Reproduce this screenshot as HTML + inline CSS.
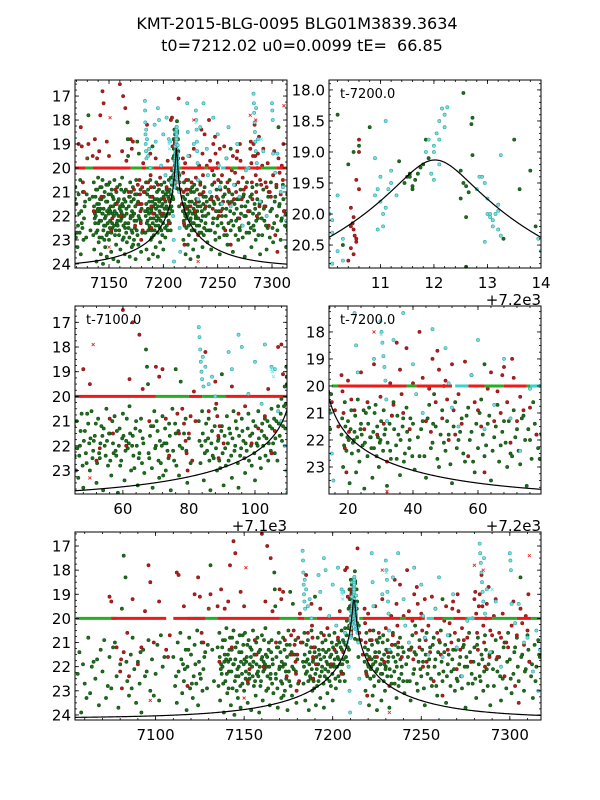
<!DOCTYPE html>
<html>
<head>
<meta charset="utf-8">
<style>
html,body{margin:0;padding:0;background:#fff;}
#wrap{position:relative;width:600px;height:800px;overflow:hidden;}
svg text{font-family:"DejaVu Sans","Liberation Sans",sans-serif;}
</style>
</head>
<body>
<div id="wrap">
<svg id="fig" width="600" height="800" viewBox="0 0 600 800" xmlns="http://www.w3.org/2000/svg">
<text x="297" y="29" font-size="16" text-anchor="middle">KMT-2015-BLG-0095 BLG01M3839.3634</text>
<text x="302" y="51" font-size="16" text-anchor="middle" xml:space="preserve" style="white-space:pre">t0=7212.02 u0=0.0099 tE=  66.85</text>
</svg>
</div>
<script>
// model parameters
const t0 = 7212.02, u0 = 0.0099, tE = 66.85, mBase = 24.14;

// dark green (circles)
const greenPts = [
[7057,21.4],[7058,23.9],[7060,22.7],[7062,20.8],[7063,23.1],[7065,21.8],[7066,22.5],[7067,21.7],[7068,23.6],[7070,22.2],[7071,20.9],[7072,23.3],[7074,21.6],[7075,22.9],[7076,21.2],[7078,22.4],[7079,23.7],[7080,21.9],[7081,19.6],[7082,17.4],[7083,18.3],[7084,22.6],[7085,23.2],[7086,21.5],[7087,20.8],[7088,22.1],[7089,23.5],[7090,21.8],[7091,22.7],[7092,23.9],[7093,21.3],[7094,22.4],[7096,20.9],[7097,23.0],[7098,21.7],[7100,22.3],[7101,21.1],[7102,23.4],[7103,20.7],[7104,22.0],
[7110,21.6],[7111,22.8],[7112,23.5],[7112.5,21.0],[7113,22.2],[7114,20.6],[7115,23.1],[7115.5,21.9],[7116,22.6],[7117,21.3],[7117.5,23.8],[7118,22.0],[7119,20.8],[7119.5,22.9],[7120,21.5],[7121,23.3],[7121.5,22.4],[7122,21.1],[7123,22.7],[7123.5,20.5],[7124,23.6],[7124.5,21.8],[7125,22.3],[7126,21.0],[7126.5,23.0],[7127,22.1],[7128,21.4],[7129,22.9],[7130,19.6],[7131,17.8],[7132,21.3],[7133,22.6],
[7135,21.2],[7135.5,22.8],[7136,20.6],[7136.4,23.4],[7137,21.9],[7137.3,22.3],[7138,20.9],[7138.5,23.9],[7139,21.5],[7139.4,22.6],[7140,20.4],[7140.5,23.1],[7141,21.8],[7141.4,22.2],[7142,20.8],[7142.5,23.6],[7143,21.3],[7143.5,22.9],[7144,20.5],[7144.5,24.0],[7145,21.7],[7145.4,22.4],[7146,21.0],[7146.5,23.3],[7147,22.0],[7147.5,20.7],[7148,23.7],[7148.5,21.4],[7149,22.7],[7149.5,21.1],[7150,23.0],[7150.5,20.6],[7151,22.2],[7151.5,21.6],[7152,23.5],[7152.5,20.9],[7153,22.5],[7153.5,21.2],[7154,23.8],[7154.5,22.0],[7155,20.5],[7155.5,22.8],[7156,21.5],[7156.5,23.2],[7157,21.9],[7157.5,20.8],[7158,22.4],[7158.5,23.9],[7159,21.3],[7159.5,22.6],[7160,20.7],[7160.5,23.4],[7161,21.8],[7161.5,22.1],[7162,20.4],[7162.5,23.0],[7163,21.6],[7163.5,22.9],[7164,21.0],[7164.5,23.6],[7165,22.3],[7165.5,20.9],[7166,21.7],[7166.5,23.1],[7167,18.1],[7167.3,18.8],[7167.6,19.5],[7168,22.5],[7168.5,21.2],[7169,23.7],[7169.5,20.6],[7170,22.0],[7170.5,21.4],[7171,23.3],[7171.5,22.7],[7172,20.8],[7172.5,21.9],[7173,23.0],[7173.5,22.2],[7174,21.1],[7174.5,23.8],[7175,20.5],[7175.5,22.6],[7176,21.5],[7177,23.2],[7177.5,19.4],[7178,22.1],[7179,20.9],[7179.5,23.5],[7180,21.7],
[7137.8,22.0],[7141.7,21.3],[7143.8,21.9],[7146.8,22.4],[7149.8,21.9],[7152.8,22.3],[7155.8,21.5],[7158.8,22.0],[7161.8,21.9],[7164.8,22.5],[7139.8,21.7],[7151.2,21.8],[7153.8,21.6],[7157.2,22.3],[7160.2,21.6],[7162.8,22.0],
[7183,21.0],[7183.5,22.7],[7184,20.6],[7184.5,23.4],[7185,21.8],[7185.5,22.2],[7186,20.9],[7186.5,23.8],[7187,21.4],[7187.5,22.5],[7188,20.5],[7188.5,23.0],[7189,21.7],[7189.5,22.9],[7190,21.2],[7190.5,23.6],[7191,22.1],[7191.5,20.8],[7192,22.6],[7192.5,21.5],[7193,23.3],[7193.5,20.6],[7194,22.0],[7194.5,21.3],[7195,23.7],[7195.5,22.4],[7196,20.9],[7196.5,21.8],[7197,23.1],[7197.5,22.2],[7198,20.7],[7198.5,21.6],[7199,22.8],[7199.5,21.0],[7200,23.4],[7200.5,21.9],[7201,20.6],[7201.5,22.5],[7202,21.4],[7202.5,22.0],[7203,20.9],[7203.5,21.7],[7204,22.6],[7204.5,21.2],[7205,20.5],[7205.5,21.9],[7206,22.3],[7206.5,21.0],[7207,20.4],[7207.5,21.6],[7208,20.1],[7208.5,21.2],[7209,19.6],[7209.3,20.3],[7209.6,19.2],[7209.9,20.0],
[7211.5,19.4],[7211.6,19.55],[7211.7,19.35],[7211.75,19.25],[7211.8,19.2],[7211.55,19.4],[7211.45,19.5],[7211.65,19.45],[7211.85,18.8],[7211.9,19.1],[7211.6,19.6],[7212.5,19.3],[7212.55,19.5],[7212.6,19.55],[7212.65,19.65],[7212.5,19.75],[7212.55,18.05],[7212.7,18.55],[7212.72,18.45],[7212.72,19.05],[7212.6,20.05],[7212.6,20.85],[7211.35,19.15],[7211.55,19.35],
[7210.5,19.0],[7210.8,18.6],[7213.5,18.8],[7213.8,19.3],[7210.3,20.5],[7213.3,20.4],
[7218,21.8],[7218.5,23.0],[7219,20.6],[7219.5,22.4],[7220,21.3],[7220.5,23.6],[7221,20.9],[7221.5,22.1],[7222,21.7],[7222.5,23.2],[7223,20.5],[7223.5,22.8],[7224,21.4],[7224.5,22.2],[7225,23.8],[7225.5,21.0],[7226,22.6],[7226.5,20.8],[7227,21.9],[7227.5,23.4],[7228,22.3],[7228.5,20.7],[7229,21.5],[7229.5,23.0],[7230,22.0],[7231,20.9],[7231.5,21.6],[7232,23.7],[7233,22.4],[7233.5,21.1],[7234,20.6],[7235,22.7],[7235.5,21.8],[7236,23.3],[7237,21.2],[7237.5,22.5],[7238,20.8],[7239,22.0],[7240,21.4],[7240.5,23.1],[7219.8,21.9],[7221.8,22.0],[7223.8,21.6],[7226.8,21.9],[7229.8,22.1],
[7242,22.6],[7243,21.3],[7244,23.4],[7245,20.7],[7246,22.1],[7247,21.5],[7248,23.0],[7249,20.9],[7250,22.4],[7251,21.8],[7252,23.6],[7253,20.6],[7254,22.0],[7255,21.2],[7256,22.8],[7257,20.8],[7258,21.7],[7259,23.2],[7260,22.3],[7260.5,21.0],[7261,20.5],[7262,22.6],[7263,21.4],[7264,23.5],[7265,21.9],[7266,20.7],[7267,22.2],[7268,21.3],[7269,23.0],[7270,22.5],[7271,20.9],[7272,21.6],[7273,22.9],[7274,21.1],[7275,23.7],[7276,22.0],[7277,20.6],[7278,21.8],[7279,22.7],[7280,21.2],[7281,23.3],[7282,20.8],[7283,22.4],[7284,21.5],[7285,23.0],[7286,20.7],[7287,22.1],[7288,21.9],[7289,23.6],[7290,21.4],[7291,22.8],[7292,20.9],[7293,22.2],[7294,21.6],[7295,23.4],[7296,22.5],[7297,21.0],[7298,22.9],[7299,20.6],[7300,21.7],[7301,23.1],[7302,22.3],[7303,21.2],[7304,20.8],[7305,22.6],[7306,18.3],[7307,21.5],[7308,23.0],[7309,22.1],[7310,20.7],[7311,21.8],[7312,22.4],[7313,23.3],[7314,21.1],[7315,22.0],[7316,20.9],[7317,21.6],
[7176,18.9],[7190,19.1],[7262,19.2],[7246.5,20.3],
[7136.2,21.6],[7136.8,22.1],[7137.6,21.2],[7138.2,22.7],[7138.8,21.8],[7139.2,20.9],[7140.2,22.3],[7140.8,21.5],[7141.2,22.9],[7142.2,21.7],[7142.8,22.2],[7143.2,20.8],[7144.2,21.9],[7144.8,22.6],[7145.2,21.2],[7145.8,23.0],[7146.2,22.1],[7147.2,21.4],[7147.8,22.8],[7148.2,21.8],[7148.8,22.3],[7149.2,20.7],[7150.2,21.7],[7150.8,22.5],[7151.8,21.1],[7152.2,22.7],[7153.2,21.9],[7154.2,21.3],[7154.8,22.4],[7155.2,21.8],[7156.2,22.6],[7156.8,21.0],[7157.8,22.2],[7158.2,21.4],[7159.2,22.8],[7159.8,21.7],[7160.8,22.2],[7161.2,20.9],[7162.2,21.5],[7163.2,22.4],[7163.8,21.3],[7164.2,22.0],[7165.2,21.4],[7165.8,22.7],[7166.2,21.9],[7167.8,22.3],[7168.2,21.6],[7168.8,22.9],[7169.2,21.2],[7169.8,22.1],[7170.2,21.0],[7170.8,22.6],[7171.2,21.8],[7171.8,22.0],[7172.2,23.2],[7172.8,21.3],[7173.2,21.9],[7173.8,22.5],[7174.2,21.6],[7175.2,22.2],[7175.8,21.1],[7176.2,22.8],[7176.8,21.4],[7177.2,22.0],[7178.5,21.5],[7179.2,22.2],[7180.5,22.7],
[7183.2,21.8],[7183.8,22.0],[7184.2,21.5],[7184.8,22.3],[7185.2,21.1],[7185.8,21.7],[7186.2,22.6],[7186.8,21.9],[7187.2,22.4],[7187.8,21.2],[7188.2,22.1],[7188.8,21.8],[7189.2,22.6],[7189.8,21.4],[7190.2,22.3],[7190.8,21.6],[7191.2,22.8],[7191.8,21.9],[7192.2,21.3],[7192.8,22.4],[7193.2,21.7],[7193.8,22.2],[7194.2,21.0],[7194.8,22.7],[7195.2,21.6],[7195.8,22.1],[7196.2,21.4],[7196.8,22.5],[7197.2,21.9],[7197.8,21.3],[7198.2,22.6],[7198.8,22.0],[7199.2,21.5],[7199.8,22.3],[7200.2,21.2],[7200.8,22.0],[7201.2,21.7],[7201.8,22.9],[7202.2,21.1],[7202.8,21.6],[7203.2,22.4],[7203.8,21.0],[7204.2,21.9],[7204.8,22.2],[7205.2,21.3],[7205.8,20.9],[7206.2,21.7],[7206.8,22.6],[7207.2,21.1],[7207.8,20.7],[7208.2,21.8],[7208.8,20.4],[7209.2,21.3],[7209.5,18.8],[7209.7,19.5],[7210.2,18.4],[7210.4,19.2],[7210.6,18.9],[7213.6,19.6],[7213.9,20.2],[7214.2,20.9],[7214.5,21.6],[7214.8,20.3],
[7218.2,21.2],[7218.8,22.2],[7219.2,21.5],[7220.2,22.0],[7220.8,21.6],[7221.2,22.5],[7222.2,21.1],[7222.8,21.9],[7223.2,22.4],[7224.2,21.8],[7224.8,20.9],[7225.2,22.1],[7226.2,21.4],[7227.2,22.3],[7227.8,21.7],[7228.2,21.0],[7228.8,22.6],[7229.2,21.9],[7230.2,21.3],[7230.8,22.4],[7231.2,21.8],[7232.2,22.1],[7232.8,21.4],[7233.2,22.7],[7234.2,21.6],[7234.8,22.2],[7235.2,21.1],[7236.2,22.0],[7236.8,21.5],[7237.2,22.8],[7238.2,21.7],[7238.8,22.3],[7239.2,21.2],[7239.8,22.6],
[7241.5,21.9],[7242.5,21.6],[7243.5,22.6],[7244.5,21.2],[7245.5,22.3],[7246.2,21.4],[7247.5,22.7],[7248.5,21.8],[7249.5,22.1],[7250.5,21.3],[7251.5,22.9],[7252.5,21.5],[7253.5,22.3],[7254.5,21.7],[7255.5,22.5],[7256.5,21.1],[7257.5,22.0],[7258.5,22.8],[7259.5,21.4],[7261.5,21.8],[7262.5,22.2],[7263.5,21.1],[7264.5,22.4],[7265.5,21.5],[7266.5,22.8],[7267.5,21.7],[7268.5,22.1],[7269.5,21.3],[7270.5,22.6],[7271.5,21.9],[7272.5,22.4],[7273.5,21.2],[7274.5,22.0],[7275.5,21.6],[7276.5,22.7],[7277.5,21.4],[7278.5,22.3],[7279.5,21.8],[7280.5,22.5],[7281.5,21.1],[7282.5,21.9],[7283.5,22.6],[7284.5,21.7],[7285.5,22.2],[7286.5,21.3],[7287.5,22.8],[7288.5,21.5],[7290.5,22.1],[7292.5,21.7],[7294.5,22.4],[7296.5,21.2],[7298.5,21.8],[7300.5,22.5],[7302.5,21.4],[7304.5,22.0],[7306.5,21.6],[7308.5,22.2],[7310.5,21.3],[7312.5,21.9],[7314.5,22.6],[7316.5,21.5],
[7056,22.3],[7059,21.9],[7061,23.3],[7064,22.0],[7069,21.3],[7073,22.8],[7077,21.0],[7083.5,21.8],[7086.5,22.9],[7091.5,21.4],[7095,22.2],[7099,23.2],[7105,21.6],[7111.5,22.4],[7114.5,21.7],[7116.5,22.1],[7118.5,21.3],[7120.5,22.7],[7122.5,21.9],[7125.5,22.5],[7127.5,21.6],[7129.5,21.1]
];

// dark red (circles)
const redPts = [
[7074,19.1],[7075,19.3],[7078,21.2],[7080,22.2],[7080.5,21.7],[7081,22.9],[7082,21.4],[7084,20.6],[7085,22.4],[7087,19.2],[7090,21.9],[7092,21.2],[7094,19.7],[7096,17.8],[7097,18.5],[7099,21.0],[7102,19.3],[7106,21.3],[7107,21.6],[7108,20.7],[7112,18.1],[7113,18.2],[7116,19.5],[7118,22.8],[7122,19.0],[7124,18.3],[7125,19.1],[7126,20.6],[7127,21.0],[7131,19.0],[7135,19.5],[7137,18.8],[7139,19.6],[7141,19.3],[7142,17.8],[7144,16.8],[7145,17.3],[7148,18.9],[7150,19.5],[7152,22.6],[7153,22.1],[7157,21.5],[7160,16.5],[7162,19.3],[7163,17.0],[7165,17.5],[7166,19.7],[7170,18.8],[7171,19.2],[7172,18.9],[7173,20.9],[7174,22.4],[7178,20.5],[7178.5,21.1],[7179,21.8],[7179.3,22.3],[7179.6,23.0],[7180,21.5],[7180.5,20.8],[7181,22.6],[7181.5,19.8],[7185,18.2],[7188,19.4],[7188.3,20.3],[7188.6,20.8],[7188.9,21.6],[7189,22.5],[7189.3,21.2],[7193,19.6],[7197,20.4],[7199,21.9],[7203,20.8],[7205,22.3],[7206,21.4],[7207,18.0],[7208,17.9],[7208.5,19.1],[7210,20.3],[7214,17.1],[7215,20.6],[7216,20.9],[7217,21.5],[7218,19.6],[7218.3,20.2],[7218.6,21.0],[7219,22.3],[7219.5,23.2],[7220,19.8],[7222,20.9],[7225,21.6],[7228,19.2],[7230,20.4],[7231,21.4],[7232,22.8],[7233,19.9],[7234,20.7],[7235,18.4],[7236,19.4],[7237,21.0],[7238,18.6],[7240,19.9],[7242,18.0],[7244,21.3],[7245,20.1],[7246,19.0],[7247,20.6],[7248,19.4],[7249,21.2],[7250,19.8],[7250.5,20.5],[7251,22.0],[7252,19.2],[7254,20.3],[7255,21.4],[7257,22.6],[7258,19.6],[7260,20.9],[7262,23.2],[7264,19.5],[7266,20.2],[7267,21.0],[7268,19.3],[7269,20.6],[7270,22.1],[7271,19.7],[7273,20.4],[7276,20.8],[7279,20.0],[7280,19.2],[7280.5,18.9],[7281,19.8],[7281.5,20.6],[7282,21.3],[7283,19.0],[7284,18.2],[7284.5,19.5],[7285,20.3],[7285.5,21.0],[7286,22.0],[7287,19.4],[7288,18.7],[7289,20.5],[7291,19.9],[7293,21.6],[7295,20.8],[7297,22.4],[7299,21.2],[7301,20.3],[7303,22.8],[7305,23.5],[7306,19.6],[7307,20.2],[7308,21.1],[7309,19.9],[7310,20.5],[7311,21.8],
[7210.45,19.9],[7210.5,20.05],[7210.48,20.15],[7210.5,20.25],[7210.52,20.35],[7210.55,20.45],[7210.45,20.55],[7210.5,20.65],[7210.4,20.75],[7210.6,18.8],[7210.6,19.0],[7210.55,19.45],[7210.6,19.6],[7210.45,20.2],[7210.55,20.4],
[7220.3,21.7],[7221,20.5],[7224,19.5],[7226,20.6],[7229,21.8],[7233.5,21.1],[7236.5,20.3],[7239,21.6],[7243,19.7],[7245.5,21.7],[7247.5,18.7],[7249.5,20.0],[7252.5,20.9],[7253,21.8],[7256,19.1],[7259,20.6],[7261,21.5],[7263,20.1],[7265,21.3],[7267.5,19.6],[7270.5,19.0],[7272,21.3],[7274,20.9],[7278,21.8],[7282.5,19.5],[7286.5,20.0],[7288.5,21.6],[7290,20.7],[7292,19.2],[7294,20.6],[7296,19.8],[7298,21.0],[7302,19.3],[7304,20.7],[7310.5,19.0],[7176.5,20.7],[7177,21.5],[7182,21.0],[7186,20.6],[7190.5,21.9],[7195,20.7],[7201,21.3],[7204,19.7],[7136,21.8],[7143,21.2],[7156,20.9],[7161,22.0],[7168,21.0]
];

// cyan (circles)
const cyanPts = [
[7183,17.2],[7183.2,17.6],[7183.4,18.1],[7183.6,18.6],[7183.8,19.0],[7184,19.3],[7184.2,18.4],[7184.4,19.6],[7185,18.8],[7186,19.5],[7187,19.2],[7188,20.0],[7192,18.2],[7193,18.9],[7195,17.5],[7196,18.0],[7198,19.9],[7200,18.6],[7202,20.3],[7203,17.9],[7205,18.8],[7206,18.9],[7207,20.6],[7208,21.0],[7209,22.0],[7209.5,23.0],[7209.8,23.9],
[7210.1,20.1],[7210.2,19.7],[7210.3,20.4],[7210.9,19.1],[7211,19.4],[7211.1,18.5],[7211.15,19.6],[7211.2,19.3],[7211,19.8],[7210.95,19.6],[7211.05,20.0],[7211.2,19.5],[7211.3,19.7],[7211.1,19.9],[7211.85,19.0],[7211.9,18.8],[7212.0,19.0],[7212.1,19.2],[7212.0,18.9],[7212.05,18.7],[7212.1,18.5],[7212.15,18.3],[7212.2,18.4],[7212.2,18.6],[7212.25,18.28],[7212.1,18.8],[7211.95,19.35],[7212.0,19.45],[7212.9,19.4],[7212.95,19.5],[7213.0,19.75],[7213.05,20.05],[7213.1,20.1],[7213.0,20.0],[7213.15,20.0],[7213.2,20.25],[7213.25,20.35],[7213.1,20.2],[7212.95,20.45],[7213.2,19.95],[7213.25,19.05],[7213.2,19.85],[7213.05,20.0],[7212.8,19.6],[7212.85,19.4],[7213.95,20.4],[7214.0,20.6],[7210.05,20.0],[7210.1,20.3],[7210.2,20.6],[7210.3,20.75],[7210.1,20.8],[7210.9,19.7],[7211.05,20.2],[7210.95,20.25],[7214.5,21.0],[7215,22.5],[7215.5,23.5],
[7222,17.3],[7222.5,18.5],[7223,19.5],[7228,19.0],[7230,17.6],[7230.3,18.0],[7230.6,18.4],[7230.9,18.9],[7231.2,19.3],[7231.5,19.8],[7231.8,20.5],[7232,21.3],[7234,18.3],[7237,17.3],[7240,19.2],[7241,20.3],[7243,21.0],[7246,17.9],[7250,18.6],[7251,19.9],[7252,20.8],[7254,21.5],[7258,19.6],[7260,18.3],[7262,21.6],[7265,20.7],[7268,19.0],[7270,21.2],[7273,22.4],[7276,20.1],[7283,16.9],[7283.3,17.3],[7283.6,17.7],[7284,18.1],[7284.3,18.5],[7284.6,18.9],[7285,19.3],[7285.4,17.5],[7286,19.8],[7287,18.8],[7289,21.4],[7292,19.3],[7295,22.0],[7300,17.3],[7300.3,17.6],[7300.6,18.0],[7301,19.4],[7303,20.2],[7305,19.4],[7308,21.0],[7310,20.8],[7313,22.2],[7315,20.5],[7316,23.0],[7317,21.3]
];

// scattered red x markers
const redXPts = [[7151,17.9],[7130,19.6],[7228,18.0],[7280,17.8],[7285,18.0],[7311,17.4],[7097,23.4],[7150,23.3],[7232,23.9]];
// light-cyan x markers
const lcyanXPts = [[7205,18.9],[7205.3,19.0],[7205.6,19.2],[7230.2,18.1],[7290,18.8]];

// flagged points at mag 20 (time intervals)
const band20Mag = 20.0;
const greenBand = [[7055,7078],[7118,7135],[7170,7180],[7184,7191],[7215,7218],[7238,7241],[7262,7268],[7275,7280],[7290,7304],[7312,7318]];
const redBand = [[7075,7106],[7110,7128],[7135,7170],[7180,7184],[7191,7210],[7217,7238],[7241,7252],[7257,7262],[7268,7275],[7280,7290],[7304,7312]];
const cyanBand = [[7253,7257],[7276,7280]];

// panel x tick values (absolute times) and tick label strings
const p1Ticks = [7150,7200,7250,7300];
const p1Labels = ["7150","7200","7250","7300"];
const p2Ticks = [7211,7212,7213,7214];
const p2Labels = ["11","12","13","14"];
const p3Ticks = [7160,7180,7200];
const p3Labels = ["60","80","100"];
const p4Ticks = [7220,7240,7260];
const p4Labels = ["20","40","60"];
const p5Ticks = [7100,7150,7200,7250,7300];
const p5Labels = ["7100","7150","7200","7250","7300"];
const magTicksA = [17,18,19,20,21,22,23,24];
const magTicksB = [18.0,18.5,19.0,19.5,20.0,20.5];
const magTicksC = [17,18,19,20,21,22,23];
const magTicksD = [18,19,20,21,22,23];

const NS = "http://www.w3.org/2000/svg";
const svg = document.getElementById('fig');

function mk(tag, attrs, parent){
  const e = document.createElementNS(NS, tag);
  for (const k in attrs) e.setAttribute(k, attrs[k]);
  (parent||svg).appendChild(e);
  return e;
}

function modelMag(t){
  const tau = (t - t0)/tE;
  const u = Math.sqrt(u0*u0 + tau*tau);
  const A = (u*u + 2)/(u*Math.sqrt(u*u + 4));
  return mBase - 2.5*Math.log10(A);
}

const panels = [
 {id:'p1', x0:75,x1:287,y0:80,y1:268, t0:7118.7,t1:7313.8, m0:16.33,m1:24.17, xt:p1Ticks, xl:p1Labels, yt:magTicksA, yfmt:0, xminor:10, yminor:0.25},
 {id:'p2', x0:329,x1:541,y0:80,y1:268, t0:7210.04,t1:7214.0, m0:17.84,m1:20.87, xt:p2Ticks, xl:p2Labels, yt:magTicksB, yfmt:1, xminor:0.2, yminor:0.1, label:'t-7200.0', offset:'+7.2e3'},
 {id:'p3', x0:75,x1:287,y0:306,y1:494, t0:7145.5,t1:7209.7, m0:16.34,m1:23.95, xt:p3Ticks, xl:p3Labels, yt:magTicksC, yfmt:0, xminor:4, yminor:0.25, label:'t-7100.0', offset:'+7.1e3'},
 {id:'p4', x0:329,x1:541,y0:306,y1:494, t0:7214.15,t1:7279.4, m0:17.04,m1:24.0, xt:p4Ticks, xl:p4Labels, yt:magTicksD, yfmt:0, xminor:4, yminor:0.25, label:'t-7200.0', offset:'+7.2e3'},
 {id:'p5', x0:75,x1:541,y0:532,y1:720, t0:7054.5,t1:7317.6, m0:16.42,m1:24.21, xt:p5Ticks, xl:p5Labels, yt:magTicksA, yfmt:0, xminor:10, yminor:0.25}
];

panels.forEach(function(p){
  const xs = t => p.x0 + (t - p.t0)/(p.t1 - p.t0)*(p.x1 - p.x0);
  const ys = m => p.y0 + (m - p.m0)/(p.m1 - p.m0)*(p.y1 - p.y0);
  const g = mk('g', {});
  
  
  const clip = mk('clipPath', {id:'clip-' + p.id}, g);
  mk('rect', {x:p.x0, y:p.y0, width:p.x1-p.x0, height:p.y1-p.y0}, clip);
  const plot = mk('g', {'clip-path':'url(#clip-' + p.id + ')'}, g);
  
  

  function dots(pts, fill, stroke, r, name){
    const sg = mk('g', {}, plot);
    
    
    pts.forEach(function(d){
      if (d[0] < p.t0 - 1 || d[0] > p.t1 + 1) return;
      mk('circle', {cx:xs(d[0]).toFixed(1), cy:ys(d[1]).toFixed(1), r:r, fill:fill, stroke:stroke, 'stroke-width':0.6}, sg);
    });
  }
  function crosses(pts, col, name){
    const sg = mk('g', {}, plot);
    
    
    pts.forEach(function(d){
      const x = xs(d[0]), y = ys(d[1]);
      mk('path', {d:'M'+(x-1.5)+' '+(y-1.5)+'L'+(x+1.5)+' '+(y+1.5)+'M'+(x-1.5)+' '+(y+1.5)+'L'+(x+1.5)+' '+(y-1.5), stroke:col, 'stroke-width':0.8, fill:'none'}, sg);
    });
  }
  function band(ints, col, name){
    const sg = mk('g', {}, plot);
    
    
    ints.forEach(function(iv){
      mk('line', {x1:xs(iv[0]), x2:xs(iv[1]), y1:ys(band20Mag), y2:ys(band20Mag), stroke:col, 'stroke-width':3}, sg);
    });
  }

  dots(greenPts, '#1f6e1f', '#0f4f0f', 1.6, 'green-points');
  dots(redPts, '#b21e1e', '#8a1010', 1.6, 'red-points');
  band(greenBand, '#22b022', 'green-flag-band');
  band(redBand, '#ee1a1a', 'red-flag-band');
  band(cyanBand, '#3fd0d0', 'cyan-flag-band');
  dots(cyanPts, '#86d9d9', '#22aaaa', 1.6, 'cyan-points');
  crosses(redXPts, '#e02020', 'red-x-points');
  crosses(lcyanXPts, '#66eeee', 'light-cyan-x-points');

  // model curve
  let dpath = '';
  const n = 400;
  for (let i = 0; i <= n; i++){
    const t = p.t0 + (p.t1 - p.t0)*i/n;
    dpath += (i ? 'L' : 'M') + xs(t).toFixed(2) + ' ' + ys(modelMag(t)).toFixed(2);
  }
  const cv = mk('path', {d:dpath, fill:'none', stroke:'#000', 'stroke-width':1.2}, plot);
  
  

  // frame
  const fr = mk('rect', {x:p.x0, y:p.y0, width:p.x1-p.x0, height:p.y1-p.y0, fill:'none', stroke:'#000', 'stroke-width':1}, g);
  
  

  // ticks
  const tg = mk('g', {stroke:'#000', 'stroke-width':0.8}, g);
  
  
  const mstart = Math.ceil(p.t0 / p.xminor) * p.xminor;
  for (let t = mstart; t <= p.t1; t += p.xminor){
    const x = xs(t);
    mk('line', {x1:x, x2:x, y1:p.y1, y2:p.y1-2}, tg);
    mk('line', {x1:x, x2:x, y1:p.y0, y2:p.y0+2}, tg);
  }
  const ystart = Math.ceil(p.m0 / p.yminor) * p.yminor;
  for (let m = ystart; m <= p.m1; m += p.yminor){
    const y = ys(m);
    mk('line', {x1:p.x0, x2:p.x0+2, y1:y, y2:y}, tg);
    mk('line', {x1:p.x1, x2:p.x1-2, y1:y, y2:y}, tg);
  }
  p.xt.forEach(function(t, i){
    const x = xs(t);
    mk('line', {x1:x, x2:x, y1:p.y1, y2:p.y1-4}, tg);
    mk('line', {x1:x, x2:x, y1:p.y0, y2:p.y0+4}, tg);
    const lb = mk('text', {x:x, y:p.y1+20, 'font-size':15, 'text-anchor':'middle', fill:'#000'}, g);
    lb.textContent = p.xl[i];
    
    
  });
  p.yt.forEach(function(m){
    const y = ys(m);
    mk('line', {x1:p.x0, x2:p.x0+4, y1:y, y2:y}, tg);
    mk('line', {x1:p.x1, x2:p.x1-4, y1:y, y2:y}, tg);
    const lb = mk('text', {x:p.x0-4, y:y+5.5, 'font-size':15, 'text-anchor':'end', fill:'#000'}, g);
    lb.textContent = m.toFixed(p.yfmt);
    
    
  });
  if (p.label){
    const tl = mk('text', {x:p.x0+11, y:p.y0+18, 'font-size':13, fill:'#000'}, g);
    tl.textContent = p.label;
    
    
  }
  if (p.offset){
    const ol = mk('text', {x:p.x1, y:p.y1+37, 'font-size':15, 'text-anchor':'end', fill:'#000'}, g);
    ol.textContent = p.offset;
    
    
  }
});
</script>
</body>
</html>
